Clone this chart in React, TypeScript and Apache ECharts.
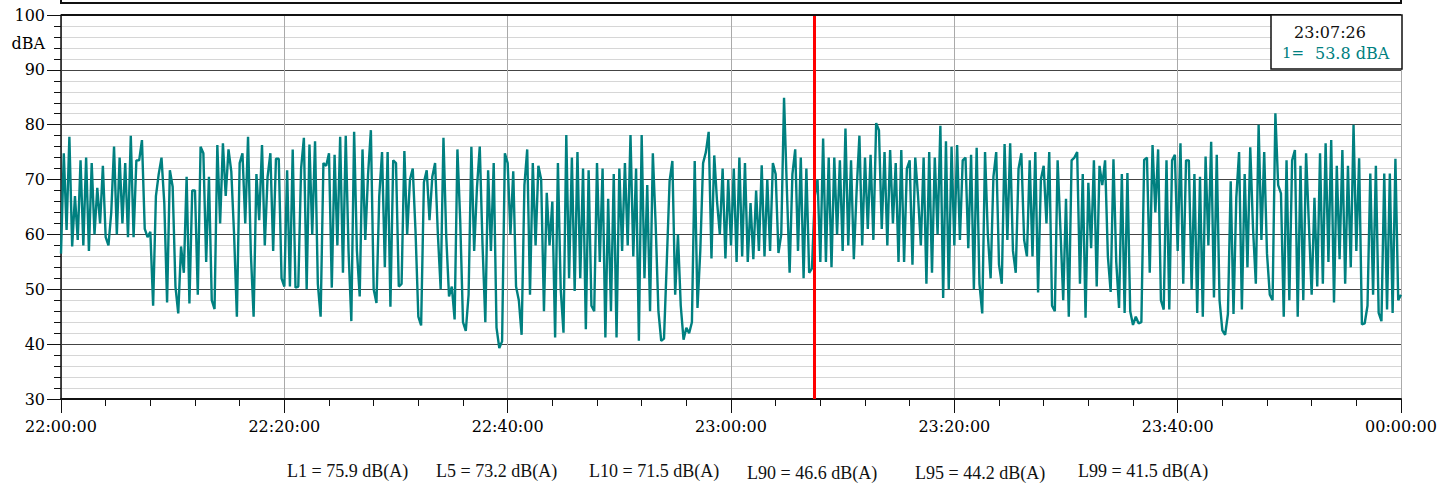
import React, { useEffect, useRef } from "react";
import * as echarts from "echarts";

// Sound level samples (dBA), one every 15 s from 22:00:00 to 00:00:00
const levels: number[] = [
  56.5, 74.8, 60.8, 77.8, 57.8, 67, 59, 73.5, 58, 74, 57, 73, 60, 68.5, 62, 72.5,
  59.5, 58, 64, 76, 60, 74, 62, 73, 59.5, 78, 59.5, 73.5, 73.5, 77.2, 61, 59.5,
  60.5, 47, 67, 71, 74, 65.7, 47.6, 71.7, 68.7, 50.5, 45.6, 57.8, 53, 70.5, 47.4, 68,
  68, 49, 76, 74.8, 55, 70.5, 48, 46.4, 76.3, 62, 76.6, 67, 75.5, 71.5, 60, 45,
  73, 74.8, 62, 77.8, 56.6, 45, 71, 62.6, 76.3, 58, 70.5, 74.8, 57, 73.8, 73.8, 52,
  50.5, 71.7, 50.5, 75.5, 50.3, 50.5, 72, 77.6, 50, 76.4, 60, 77, 51, 45, 73, 72.5,
  74.8, 50.3, 74.5, 58, 77.8, 53, 78, 57, 44.2, 78.7, 57, 48.7, 75.5, 59, 71, 79,
  50, 47.5, 67, 75, 54, 75, 46.8, 73.5, 73, 50.5, 51, 75.2, 60, 70, 72, 60.5,
  45, 43.4, 69.5, 71.7, 62.6, 70.5, 73, 60, 50, 77.6, 59.6, 48.7, 50.5, 44.5, 75.5, 62.6,
  44, 42.4, 49, 76, 57, 68.5, 76, 58, 44, 71.7, 57, 73, 43, 39.3, 40.5, 74.8,
  73, 60, 71.5, 50.5, 48, 41.7, 69, 75.5, 49, 73, 58, 72.5, 70, 46, 67.6, 58,
  66, 41.2, 73, 50, 42.1, 78.1, 52, 74, 49.7, 75, 52, 72, 42.7, 71.7, 47, 46,
  73, 55, 72, 41.2, 66.5, 46, 71, 41.2, 72, 57, 73, 58, 78.1, 56, 72, 40.6,
  78.1, 52, 69, 46, 74.8, 62, 46, 40.6, 41, 55, 69.7, 73.4, 49, 60, 47, 40.8,
  43, 42, 44, 73.4, 46.6, 57, 73, 75, 78.7, 55.6, 74.4, 66, 60, 72, 55.6, 70,
  58, 72, 55, 74, 56, 73, 55, 65.7, 55.5, 68, 57, 72.6, 56, 70, 57, 73,
  71, 56.6, 60, 84.9, 68.5, 53, 71, 75.5, 57, 74, 52, 72, 53, 53.8, 67, 70,
  55, 77.5, 55, 74, 54, 74, 60, 73.5, 57, 79.3, 58, 73.5, 55.5, 68, 78, 58,
  74, 61, 74.5, 59, 80.3, 79, 61, 75, 58, 75.4, 62, 73, 55, 75.4, 55, 72,
  73.5, 54.5, 74, 67, 58, 74, 51, 75, 53, 74, 60, 79.8, 48.4, 77, 50, 76,
  58, 76.3, 59, 73.5, 74, 57.5, 74.5, 50, 75.8, 51, 45.6, 75, 60, 52, 70.5, 75,
  54.5, 51, 76.5, 59, 76.6, 57, 53, 72, 74.8, 59, 56, 73.5, 56, 75, 49.4, 70,
  72.5, 62, 75, 47, 46, 73.5, 61, 48, 66.5, 45, 73.5, 74, 75, 51, 71, 44.8,
  69.4, 57.5, 73.5, 50.5, 72.5, 69, 73.5, 56, 49.5, 73.7, 55, 46.6, 71, 45.7, 71.2, 46,
  43.5, 45, 43.8, 44, 73.6, 74, 53, 76.3, 64, 75.5, 48, 46.3, 73.5, 46.3, 73.5, 74.5,
  57, 76.6, 51, 73.5, 73.5, 50, 71, 45.7, 70.5, 45, 74.2, 58, 76.9, 48.5, 74.5, 48,
  42.5, 41.7, 45.5, 69.7, 45.5, 66.7, 75, 46.3, 71, 54, 75.9, 61, 51, 80, 59, 75,
  56.5, 49, 48, 82.1, 69, 67.5, 45, 73.5, 48, 73.5, 75.4, 45, 72.5, 48, 74.8, 62,
  49, 66.7, 50.5, 74.8, 51, 76.6, 55, 77.2, 47.6, 72.5, 55.5, 75.4, 51, 72.5, 54, 80,
  57, 73.9, 43.6, 43.8, 47, 71.1, 49, 72.5, 45.7, 44.2, 71.1, 46.3, 71.1, 45.7, 73.8, 48,
  49,
];

const START_HOUR = 22;
const SAMPLE_SECONDS = 15;
const CURSOR_SECONDS = 4046; // 23:07:26
const CURSOR_TIME = "23:07:26";
const CURSOR_VALUE = "53.8 dBA";

const statLabels = ["L1", "L5", "L10", "L90", "L95", "L99"];
const statValues = [75.9, 73.2, 71.5, 46.6, 44.2, 41.5];
const statX = [287, 436, 589, 747, 915, 1078];
const statY = [471, 471, 471, 473, 473, 471];

const TEAL = "#008080";
const SERIF = '"DejaVu Serif", Georgia, serif';

function fmtTime(v: number): string {
  const total = START_HOUR * 3600 + v;
  const h = Math.floor(total / 3600) % 24;
  const m = Math.floor((total % 3600) / 60);
  const s = Math.floor(total % 60);
  const p = (n: number) => (n < 10 ? "0" + n : "" + n);
  return `${p(h)}:${p(m)}:${p(s)}`;
}

export default function App() {
  const ref = useRef<HTMLDivElement>(null);
  useEffect(() => {
    document.body.style.margin = "0";
    if (!ref.current) return;
    const chart = echarts.init(ref.current, undefined, { renderer: "svg" });
    const data = levels.map((v, i) => [i * SAMPLE_SECONDS, v]);
    const statTexts = statLabels.map((l, i) => ({
      type: "text",
      x: statX[i],
      y: statY[i],
      z: 50,
      style: {
        text: `${l} = ${statValues[i].toFixed(1)} dB(A)`,
        fontFamily: '"Liberation Serif", "Times New Roman", serif',
        fontSize: 18,
        fill: "#111",
        align: "left",
        verticalAlign: "middle",
      },
    }));
    chart.setOption({
      animation: false,
      backgroundColor: "#fff",
      grid: { left: 61, right: 43, top: 15, bottom: 84, containLabel: false },
      xAxis: {
        type: "value",
        min: 0,
        max: 7200,
        interval: 1200,
        axisLine: { show: true, lineStyle: { color: "#111", width: 2 } },
        axisTick: { show: true, length: 14, lineStyle: { color: "#111" } },
        minorTick: { show: true, splitNumber: 5, length: 7, lineStyle: { color: "#111" } },
        splitLine: { show: true, lineStyle: { color: "#aaaaaa", width: 1 } },
        axisLabel: {
          formatter: (v: number) => fmtTime(v),
          fontFamily: SERIF,
          fontSize: 16,
          color: "#000",
          margin: 19,
        },
      },
      yAxis: {
        type: "value",
        min: 30,
        max: 100,
        interval: 10,
        axisLine: { show: true, lineStyle: { color: "#111", width: 1.5 } },
        axisTick: { show: true, length: 14, lineStyle: { color: "#111" } },
        minorTick: { show: true, splitNumber: 5, length: 7, lineStyle: { color: "#111" } },
        splitLine: { show: true, lineStyle: { color: "#444", width: 1 } },
        minorSplitLine: { show: true, lineStyle: { color: "#d6d6d6", width: 1 } },
        axisLabel: {
          fontFamily: SERIF,
          fontSize: 16,
          color: "#000",
          margin: 16,
        },
      },
      series: [
        {
          type: "line",
          data,
          showSymbol: false,
          symbol: "none",
          lineStyle: { color: TEAL, width: 2.4 },
          z: 3,
          markLine: {
            silent: true,
            symbol: "none",
            label: { show: false },
            lineStyle: { color: "#ff0000", width: 3, type: "solid" },
            data: [{ xAxis: CURSOR_SECONDS }],
            z: 5,
          },
        },
      ],
      graphic: [
        {
          type: "rect",
          z: 50,
          shape: { x: 61, y: -20, width: 1340, height: 23 },
          style: { fill: "none", stroke: "#111", lineWidth: 2 },
        },
        {
          type: "line",
          z: 50,
          shape: { x1: 61, y1: 15, x2: 1401, y2: 15 },
          style: { stroke: "#111", lineWidth: 2 },
        },
        {
          type: "text",
          x: 45,
          y: 43,
          z: 50,
          style: {
            text: "dBA",
            fontFamily: SERIF,
            fontSize: 16,
            fill: "#000",
            align: "right",
            verticalAlign: "middle",
          },
        },
        {
          type: "rect",
          z: 60,
          shape: { x: 1271, y: 15, width: 131, height: 54 },
          style: { fill: "#fff", stroke: "#111", lineWidth: 1.5 },
        },
        {
          type: "text",
          x: 1330,
          y: 32,
          z: 61,
          style: {
            text: CURSOR_TIME,
            fontFamily: SERIF,
            fontSize: 16,
            fill: "#111",
            align: "center",
            verticalAlign: "middle",
          },
        },
        {
          type: "text",
          x: 1282,
          y: 53,
          z: 61,
          style: {
            text: "1=",
            fontFamily: SERIF,
            fontSize: 15,
            fill: TEAL,
            align: "left",
            verticalAlign: "middle",
          },
        },
        {
          type: "text",
          x: 1315,
          y: 53,
          z: 61,
          style: {
            text: CURSOR_VALUE,
            fontFamily: SERIF,
            fontSize: 16,
            fill: TEAL,
            align: "left",
            verticalAlign: "middle",
          },
        },
        ...statTexts,
      ],
    });
    return () => chart.dispose();
  }, []);
  return <div ref={ref} style={{ width: 1444, height: 483 }} />;
}
